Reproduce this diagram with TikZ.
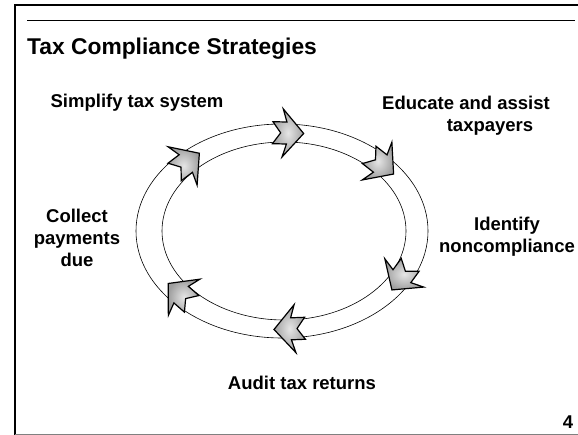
\documentclass[tikz,border=0pt]{standalone}
\usepackage{fontspec}
\setmainfont{Liberation Sans}

\begin{document}
\begin{tikzpicture}[x=1pt,y=1pt,
    stagetext/.style={font=\fontsize{18.5}{22}\selectfont\bfseries,align=center,inner sep=0pt},
    ring/.style={line width=0.6pt},
    ringarrow/.pic={\draw[line width=1.2pt,line join=miter,inner color=gray!20,outer color=gray!75]
      (16,0) -- (-5,24) -- (-1,11) -- (-15,11) -- (-7,0) -- (-15,-11) -- (-1,-11) -- (-5,-24) -- cycle;}]
  \useasboundingbox (0,0) rectangle (578,435);

  % slide frame
  \draw[line width=1.8pt] (15,0) -- (15,430);
  \draw[line width=1.4pt] (14,430) -- (578,430);
  \draw[line width=0.9pt] (27,415) -- (575,415);
  \draw[line width=0.4pt,gray] (15,1) -- (578,1);

  \path
  (27,380) node[anchor=base west,inner sep=0pt,font=\fontsize{22.8}{26}\selectfont\bfseries](title) {Tax Compliance Strategies}
  ;

  % the cycle
  \draw[ring] (282,204) ellipse [x radius=146pt, y radius=107pt];
  \draw[ring] (284,204) ellipse [x radius=122pt, y radius=89pt];

  \foreach \t in {88,43,-28,-87,-140,136} {
    \pgfmathsetmacro\px{283+134*cos(\t)}
    \pgfmathsetmacro\py{204+98*sin(\t)}
    \pgfmathsetmacro\rot{atan2(-98*cos(\t),134*sin(\t))}
    \pic[rotate=\rot] at (\px,\py) {ringarrow};
  }

  \path
  (137,332) node[stagetext](simplify) {Simplify tax system}
  (466,332) node[stagetext](educate) {Educate and assist}
  (490,308) node[stagetext](taxpayers) {taxpayers}
  (507,198) node[stagetext](identify) {Identify\\noncompliance}
  (302,52) node[stagetext](audit) {Audit tax returns}
  (77,197) node[stagetext](collect) {Collect\\payments\\due}
  ;

  \path (568,13) node[stagetext](page) {4};
\end{tikzpicture}
\end{document}
